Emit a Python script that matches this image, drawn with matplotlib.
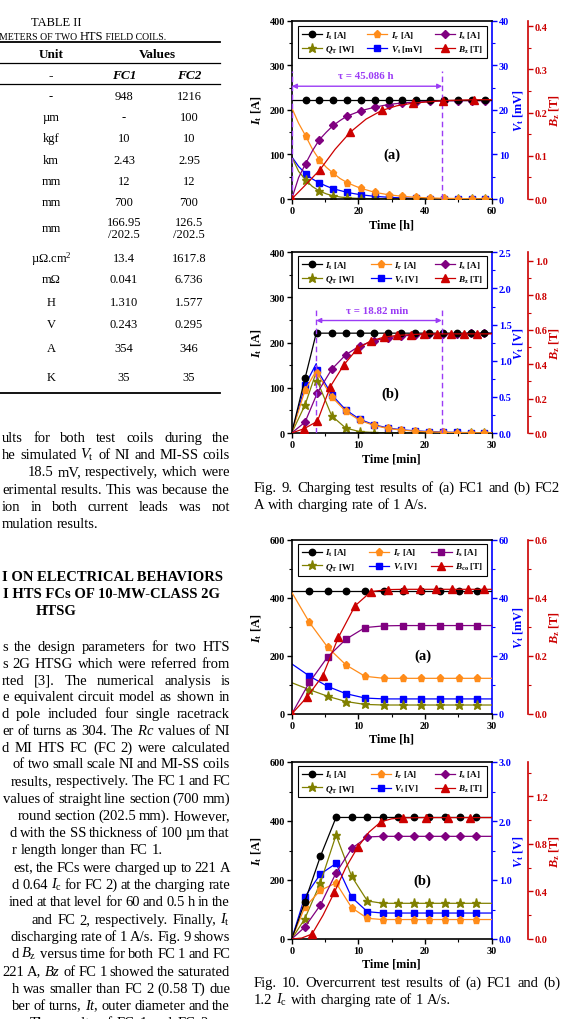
import matplotlib
matplotlib.use('Agg')
import matplotlib.pyplot as plt
from matplotlib.ticker import MultipleLocator, AutoMinorLocator, FormatStrFormatter
from matplotlib.lines import Line2D

W, H = 562, 1020
plt.rcParams['font.family'] = ['Liberation Serif', 'DejaVu Serif']
plt.rcParams['font.weight'] = 'bold'
plt.rcParams['mathtext.fontset'] = 'custom'
plt.rcParams['mathtext.rm'] = 'Liberation Serif:weight=normal'
plt.rcParams['mathtext.it'] = 'Liberation Serif:style=italic:weight=normal'
plt.rcParams['mathtext.bf'] = 'Liberation Serif:weight=bold'
plt.rcParams['mathtext.bfit'] = 'Liberation Serif:style=italic:weight=bold'

C_IT = 'black'
C_IR = '#FF8C1A'
C_IS = '#800080'
C_QT = '#808000'
C_VT = '#0000FF'
C_BZ = '#CC0000'
C_TAU = '#9B3CF5'

# ---- Fig. 9 (a) FC1 charging, time in h
t_fc1 = [0, 2.07, 4.15, 6.2, 8.3, 10.4, 12.45, 14.5, 16.6, 18.7, 20.75, 24.9, 29.05, 33.2, 37.35, 41.5, 45.65, 49.8, 53.95, 58.1, 60]
mk_fc1 = [2, 4, 6, 8, 10, 11, 12, 13, 14, 15, 16, 17, 18, 19]
It_fc1 = [221, 221, 221, 221, 221, 221, 221, 221, 221, 221, 221, 221, 221, 221, 221, 221, 221, 221, 221, 221, 221]
Ir_fc1 = [205, 170, 142, 112, 88, 71, 58, 46, 37, 30, 24, 15, 9.5, 6, 3.8, 2.4, 1.5, 1.0, 0.6, 0.4, 0.3]
Is_fc1 = [0, 48, 79, 108, 133, 150, 165, 176, 186, 192, 198, 206, 212, 215.5, 217.5, 219, 220, 220.5, 220.7, 220.8, 220.8]
Qt_fc1 = [95, 62, 43, 28, 18, 11.5, 7, 4.5, 2.8, 1.8, 1.1, 0.45, 0.2, 0.1, 0, 0, 0, 0, 0, 0, 0]
Vt_fc1 = [9.5, 7.3, 5.7, 4.5, 3.6, 2.9, 2.3, 1.9, 1.5, 1.2, 0.95, 0.6, 0.38, 0.24, 0.15, 0.1, 0.06, 0.04, 0.03, 0.02, 0.02]
tb_fc1 = [0, 4.2, 8.5, 13.0, 17.6, 22.3, 27.0, 31.6, 36.3, 45.5, 54.7, 60]
Bz_fc1 = [0, 0.033, 0.068, 0.115, 0.155, 0.185, 0.205, 0.216, 0.222, 0.228, 0.230, 0.230]
mkb_fc1 = [0, 2, 4, 6, 8, 9, 10]
tau_fc1 = 45.086
t0_fc1 = 0.06

# ---- Fig. 9 (b) FC2 charging, time in min
t_fc2 = [0, 2.0, 3.68, 3.85, 6.0, 8.1, 10.2, 12.3, 14.4, 16.45, 18.55, 20.6, 22.7, 24.75, 26.85, 28.9, 30]
mk_fc2 = [1, 3, 4, 5, 6, 7, 8, 9, 10, 11, 12, 13, 14, 15]
It_fc2 = [0, 121, 221, 221, 221, 221, 221, 221, 221, 221, 221, 221, 221, 221, 221, 221, 221]
Ir_fc2 = [0, 95, 138, 132, 80, 48, 28, 17, 10, 6.5, 4, 2.5, 1.5, 1, 0.5, 0.3, 0.2]
Is_fc2 = [0, 24, 83, 89, 141, 173, 193, 204, 211, 214.5, 217, 218.5, 219.5, 220, 220.5, 220.7, 220.8]
Qt_fc2 = [0, 62, 135, 115, 38, 11, 3, 1, 0.3, 0, 0, 0, 0, 0, 0, 0, 0]
Vt_fc2 = [0, 0.66, 0.96, 0.87, 0.53, 0.32, 0.19, 0.115, 0.07, 0.045, 0.03, 0.02, 0.012, 0.008, 0.005, 0.003, 0.002]
tb_fc2 = [0, 1.85, 3.85, 5.8, 7.8, 9.85, 11.85, 13.85, 15.85, 17.85, 19.85, 21.85, 23.85, 25.85, 27.85, 30]
Bz_fc2 = [0, 0.025, 0.068, 0.27, 0.395, 0.49, 0.535, 0.557, 0.567, 0.572, 0.575, 0.576, 0.576, 0.576, 0.576, 0.576]
mkb_fc2 = [1, 2, 3, 4, 5, 6, 7, 8, 9, 10, 11, 12, 13, 14]
tau_fc2 = 18.82
t0_fc2 = 3.68

# ---- Fig. 10 (a) FC1 overcurrent, time in h
t_oc1 = [0, 2.65, 5.4, 8.15, 11.0, 13.85, 16.65, 19.4, 22.25, 25.1, 27.85, 30]
mk_oc1 = [1, 2, 3, 4, 5, 6, 7, 8, 9, 10]
It_oc1 = [425, 425, 425, 425, 425, 425, 425, 425, 425, 425, 425, 425]
Ir_oc1 = [420, 316, 230, 169, 130, 123, 123, 123, 123, 123, 123, 123]
Is_oc1 = [0, 109, 197, 258, 298, 304, 305, 305, 305, 305, 305, 305]
Qt_oc1 = [108, 84, 61, 43, 33, 31, 31, 31, 31, 31, 31, 31]
Vt_oc1 = [17.3, 13.1, 9.5, 7.0, 5.5, 5.2, 5.2, 5.2, 5.2, 5.2, 5.2, 5.2]
tb_oc1 = [0, 2.25, 4.65, 7.0, 9.5, 11.9, 14.4, 16.8, 19.2, 21.6, 24.0, 26.4, 28.8, 30]
Bz_oc1 = [0, 0.057, 0.132, 0.264, 0.373, 0.422, 0.429, 0.43, 0.43, 0.43, 0.43, 0.43, 0.43, 0.43]
mkb_oc1 = [0, 1, 2, 3, 4, 5, 6, 7, 8, 9, 10, 11, 12]

# ---- Fig. 10 (b) FC2 overcurrent, time in min
t_oc2 = [0, 1.95, 4.3, 6.65, 9.0, 11.35, 13.65, 16.0, 18.3, 20.65, 23.0, 25.3, 27.65, 30]
mk_oc2 = [1, 2, 3, 4, 5, 6, 7, 8, 9, 10, 11, 12]
It_oc2 = [0, 125, 280, 412, 412, 412, 412, 412, 412, 412, 412, 412, 412, 412]
Ir_oc2 = [0, 107, 165, 190, 106, 70, 66, 66, 66, 66, 66, 66, 66, 66]
Is_oc2 = [0, 40, 115, 224, 307, 346, 348, 348, 348, 348, 348, 348, 348, 348]
Qt_oc2 = [0, 68, 190, 352, 212, 129, 121, 121, 121, 121, 121, 121, 121, 121]
Vt_oc2 = [0, 0.71, 1.10, 1.28, 0.706, 0.463, 0.44, 0.44, 0.44, 0.44, 0.44, 0.44, 0.44, 0.44]
tb_oc2 = [0, 1.5, 3.05, 4.7, 6.4, 8.1, 9.9, 11.6, 13.4, 15.0, 16.75, 20.1, 23.45, 26.8, 30]
Bz_oc2 = [0, 0.008, 0.042, 0.2, 0.393, 0.6, 0.772, 0.9, 0.987, 1.012, 1.02, 1.022, 1.022, 1.022, 1.022]
mkb_oc2 = [2, 4, 6, 8, 10, 11, 12, 13]

# ---- table
units = ['-', 'µm', 'kgf', 'km', 'mm', 'mm', 'mm', 'µΩ.cm$^2$', 'mΩ', 'H', 'V', 'A', 'K']
fc1_vals = ['948', '-', '10', '2.43', '12', '700', '166.95\n/202.5', '13.4', '0.041', '1.310', '0.243', '354', '35']
fc2_vals = ['1216', '100', '10', '2.95', '12', '700', '126.5\n/202.5', '1617.8', '6.736', '1.577', '0.295', '346', '35']
row_y = [97, 118, 139.3, 160.7, 182, 203, 229, 259.3, 280, 302.7, 325, 349, 378]

fig = plt.figure(figsize=(W / 100, H / 100), dpi=100)
fig.patch.set_facecolor('white')
renderer = fig.canvas.get_renderer()


def fx(x):
    return x / W


def fy(y):
    return 1 - y / H


def words_line(s, x0, y, x1=None, size=10.5, weight='normal', style='normal'):
    words = s.split(' ')
    ts = [fig.text(0, 0, w, fontsize=size, fontweight=weight, fontstyle=style,
                   va='baseline', ha='left') for w in words]
    ws = [t.get_window_extent(renderer).width for t in ts]
    em = size * 100 / 72
    if x1 is None or len(words) < 2:
        gap = 0.25 * em
    else:
        gap = (x1 - x0 - sum(ws)) / (len(words) - 1)
        if gap < 0.2 * em:
            # line too long: keep the right edge, let the start run off the cropped page
            gap = 0.2 * em
            x0 = x1 - sum(ws) - gap * (len(words) - 1)
    x = x0
    for t, w in zip(ts, ws):
        t.set_position((fx(x), fy(y)))
        x += w + gap


# ---- left column: table
fig.text(fx(56), fy(26), 'TABLE II', fontsize=9, fontweight='normal', ha='center', va='baseline')
x = -1
for piece, sz in [('METERS OF TWO ', 7), ('HTS', 9), (' FIELD COILS.', 7)]:
    tt = fig.text(fx(x), fy(40.5), piece, fontsize=sz, fontweight='normal', ha='left', va='baseline')
    x += tt.get_window_extent(renderer).width
for yy, lw in [(43.3, 1.3), (64.3, 0.9), (85.3, 0.9), (394, 1.3)]:
    fig.add_artist(Line2D([0, fx(220)], [fy(yy), fy(yy)], color='black', lw=lw))
fig.text(fx(51), fy(58), 'Unit', fontsize=9.5, fontweight='bold', ha='center', va='baseline')
fig.text(fx(157), fy(58), 'Values', fontsize=9.5, fontweight='bold', ha='center', va='baseline')
fig.text(fx(51), fy(79), '-', fontsize=9.5, fontweight='bold', ha='center', va='baseline')
fig.text(fx(124), fy(79), 'FC1', fontsize=9.5, fontweight='bold', fontstyle='italic', ha='center', va='baseline')
fig.text(fx(189), fy(79), 'FC2', fontsize=9.5, fontweight='bold', fontstyle='italic', ha='center', va='baseline')
for u, a, b, yy in zip(units, fc1_vals, fc2_vals, row_y):
    fig.text(fx(51), fy(yy), u, fontsize=9, fontweight='normal', ha='center', va='center')
    fig.text(fx(124), fy(yy), a, fontsize=9, fontweight='normal', ha='center', va='center', linespacing=1.05)
    fig.text(fx(189), fy(yy), b, fontsize=9, fontweight='normal', ha='center', va='center', linespacing=1.05)

# ---- left column: body text
block1 = [("ults for both test coils during the", 2, True),
          (r"he simulated $V_\mathrm{t}$ of NI and MI-SS coils", 2, True),
          ("18.5 mV, respectively, which were", 28, True),
          ("erimental results. This was because the", 2, True),
          ("ion in both current leads was not", 2, True),
          ("mulation results.", 2, False)]
for i, (s, x0, j) in enumerate(block1):
    words_line(s, x0, 442 + 17.2 * i, 230 if j else None)

fig.text(fx(223), fy(581), 'I ON ELECTRICAL BEHAVIORS', fontsize=10.5, fontweight='bold', ha='right', va='baseline')
fig.text(fx(220), fy(598), 'I HTS FCs OF 10-MW-CLASS 2G', fontsize=10.5, fontweight='bold', ha='right', va='baseline')
fig.text(fx(56), fy(615), 'HTSG', fontsize=10.5, fontweight='bold', ha='center', va='baseline')

block2 = [("s the design parameters for two HTS", 2, True),
          ("s 2G HTSG which were referred from", 2, True),
          ("rted [3]. The numerical analysis is", 2, True),
          ("e equivalent circuit model as shown in", 2, True),
          ("d pole included four single racetrack", 2, True),
          (r"er of turns as 304. The $Rc$ values of NI", 2, True),
          ("d MI HTS FC (FC 2) were calculated", 2, True)]
for i, (s, x0, j) in enumerate(block2):
    words_line(s, x0, 651 + 16.8 * i, 230 if j else None)

block3 = [("of two small scale NI and MI-SS coils", 13, True),
          ("results, respectively. The FC 1 and FC", 12, True),
          ("values of straight line section (700 mm)", 12, True),
          ("round section (202.5 mm). However,", 30, True),
          ("d with the SS thickness of 100 µm that", 12, True),
          ("r length longer than FC 1.", 12, False),
          ("est, the FCs were charged up to 221 A", 15, True),
          (r"d 0.64 $I_\mathrm{c}$ for FC 2) at the charging rate", 12, True),
          ("ined at that level for 60 and 0.5 h in the", 12, True),
          (r"and FC 2, respectively. Finally, $I_\mathrm{t}$", 32, True),
          ("discharging rate of 1 A/s. Fig. 9 shows", 20, True),
          (r"d $B_\mathrm{z}$ versus time for both FC 1 and FC", 12, True),
          (r"221 A, $Bz$ of FC 1 showed the saturated", 10, True),
          ("h was smaller than FC 2 (0.58 T) due", 12, True),
          (r"ber of turns, $It$, outer diameter and the", 12, True),
          ("The results of FC 1 and FC 2 are", 30, True)]
for i, (s, x0, j) in enumerate(block3):
    words_line(s, x0, 768 + 17.3 * i, 230 if j else None)

# ---- captions
words_line("Fig. 9. Charging test results of (a) FC1 and (b) FC2", 254, 492, 560, size=10.5)
words_line("A with charging rate of 1 A/s.", 254, 509.5, None, size=10.5)
words_line("Fig. 10. Overcurrent test results of (a) FC1 and (b)", 254, 987, 560, size=10.5)
words_line(r"1.2 $I_\mathrm{c}$ with charging rate of 1 A/s.", 254, 1004, None, size=10.5)


def panel(top, bottom, t, it, ir, isx, qt, vt, mk, tb, bz, mkb,
          xmax, xstep, ymax, ystep, vmax, vstep, vfmt, bmax, bstep,
          xlab, vlab, vleg, bleg, s_marker, tag, tag_xy, leg_top):
    L, R = 291.7, 491.7
    ax = fig.add_axes([fx(L), fy(bottom), (R - L) / W, (bottom - top) / H])
    ax.patch.set_visible(False)
    axv = ax.twinx()
    axb = ax.twinx()
    axv.set_zorder(ax.get_zorder() - 1)

    ax.plot(t, qt, color=C_QT, marker='*', ms=6.5, lw=0.9, markevery=mk, zorder=2)
    ax.plot(t, ir, color=C_IR, marker='p', ms=5.2, lw=0.9, markevery=mk, zorder=3)
    ax.plot(t, isx, color=C_IS, marker=s_marker, ms=4.2, lw=0.9, markevery=mk, zorder=4)
    ax.plot(t, it, color=C_IT, marker='o', ms=4.6, lw=0.9, markevery=mk, zorder=5)
    axv.plot(t, vt, color=C_VT, marker='s', ms=4.2, lw=0.9, markevery=mk)
    axb.plot(tb, bz, color=C_BZ, marker='^', ms=5.2, lw=0.9, markevery=mkb)

    ax.set_xlim(0, xmax)
    ax.set_ylim(0, ymax)
    axv.set_ylim(0, vmax)
    axb.set_ylim(0, bmax)
    ax.xaxis.set_major_locator(MultipleLocator(xstep))
    ax.yaxis.set_major_locator(MultipleLocator(ystep))
    axv.yaxis.set_major_locator(MultipleLocator(vstep))
    axb.yaxis.set_major_locator(MultipleLocator(bstep))
    for a in (ax.xaxis, ax.yaxis, axv.yaxis, axb.yaxis):
        a.set_minor_locator(AutoMinorLocator(2))
    ax.xaxis.set_major_formatter(FormatStrFormatter('%d'))
    ax.yaxis.set_major_formatter(FormatStrFormatter('%d'))
    axv.yaxis.set_major_formatter(FormatStrFormatter(vfmt))
    axb.yaxis.set_major_formatter(FormatStrFormatter('%.1f'))

    ax.spines['right'].set_visible(False)
    for a in (axv, axb):
        for s in ('left', 'top', 'bottom'):
            a.spines[s].set_visible(False)
    for s in ('left', 'top', 'bottom'):
        ax.spines[s].set_linewidth(1.2)
    axv.spines['right'].set_linewidth(1.2)
    axv.spines['right'].set_color(C_VT)
    axb.spines['right'].set_position(('axes', 1.18))
    axb.spines['right'].set_linewidth(1.2)
    axb.spines['right'].set_color(C_BZ)

    for a, c in ((ax, 'black'), (axv, C_VT), (axb, C_BZ)):
        a.tick_params(which='major', direction='out', length=3.5, width=1, labelsize=7.3, pad=1.5)
        a.tick_params(which='minor', direction='out', length=2, width=0.8)
        if c != 'black':
            a.tick_params(axis='y', which='both', colors=c)

    ax.set_xlabel(xlab, fontsize=8.8, fontweight='bold')
    ax.xaxis.set_label_coords(0.5, -(19 / (bottom - top)))
    ax.set_ylabel(r'$\mathbfit{I}_\mathbf{t}$ [A]', fontsize=8.8, fontweight='bold')
    ax.yaxis.set_label_coords(-0.14, 0.5)
    axv.set_ylabel(vlab, fontsize=8.8, fontweight='bold', color=C_VT)
    axv.yaxis.set_label_coords(1.097, 0.5)
    axb.set_ylabel(r'$\mathbfit{B}_\mathbf{z}$ [T]', fontsize=8.8, fontweight='bold', color=C_BZ)
    axb.yaxis.set_label_coords(1.278, 0.5)

    ax.text(tag_xy[0], tag_xy[1], tag, fontsize=10.5, fontweight='bold', ha='center', va='center')

    hs = [Line2D([], [], color=C_IT, marker='o', ms=4.6, lw=0.9),
          Line2D([], [], color=C_QT, marker='*', ms=6.5, lw=0.9),
          Line2D([], [], color=C_IR, marker='p', ms=5.2, lw=0.9),
          Line2D([], [], color=C_VT, marker='s', ms=4.2, lw=0.9),
          Line2D([], [], color=C_IS, marker=s_marker, ms=4.2, lw=0.9),
          Line2D([], [], color=C_BZ, marker='^', ms=5.2, lw=0.9)]
    labs = [r'$\mathbfit{I}_\mathbf{t}$ [A]', r'$\mathbfit{Q}_\mathbf{T}$ [W]',
            r'$\mathbfit{I}_\mathbf{r}$ [A]', vleg,
            r'$\mathbfit{I}_\mathbf{s}$ [A]', bleg]
    lg = axb.legend(hs, labs, ncol=3, loc='upper left', mode='expand',
                    bbox_to_anchor=(0.033, 0.0, 0.942, leg_top), borderaxespad=0,
                    fontsize=6.6, frameon=True, fancybox=False, edgecolor='black',
                    framealpha=1, handlelength=2.2, handletextpad=0.4, borderpad=0.35,
                    labelspacing=0.3, columnspacing=0.6)
    lg.get_frame().set_linewidth(0.8)
    for txt in lg.get_texts():
        txt.set_fontweight('bold')
    return ax


ax1 = panel(21.7, 200, t_fc1, It_fc1, Ir_fc1, Is_fc1, Qt_fc1, Vt_fc1, mk_fc1, tb_fc1, Bz_fc1, mkb_fc1,
            60, 20, 400, 100, 40, 10, '%d', 0.413, 0.1,
            'Time [h]', r'$\mathbfit{V}_\mathbf{t}$ [mV]', r'$\mathbfit{V}_\mathbf{t}$ [mV]',
            r'$\mathbfit{B}_\mathbf{z}$ [T]', 'D', '(a)', (30, 100), 0.969)
ax1.plot([t0_fc1, t0_fc1], [0, 288], color=C_TAU, lw=1, dashes=(4, 2.5), clip_on=False, zorder=6)
ax1.plot([t0_fc1 + tau_fc1, t0_fc1 + tau_fc1], [0, 288], color=C_TAU, lw=1, dashes=(4, 2.5), zorder=6)
ax1.annotate('', xy=(t0_fc1 + tau_fc1, 253), xytext=(t0_fc1, 253),
             arrowprops=dict(arrowstyle='<|-|>', color=C_TAU, lw=1, mutation_scale=7, shrinkA=0, shrinkB=0))
ax1.text(22.2, 278, 'τ = 45.086 h', color=C_TAU, fontsize=7.8, fontweight='bold', ha='center', va='center')

ax2 = panel(253.3, 434, t_fc2, It_fc2, Ir_fc2, Is_fc2, Qt_fc2, Vt_fc2, mk_fc2, tb_fc2, Bz_fc2, mkb_fc2,
            30, 10, 400, 100, 2.5, 0.5, '%.1f', 1.05, 0.2,
            'Time [min]', r'$\mathbfit{V}_\mathbf{t}$ [V]', r'$\mathbfit{V}_\mathbf{t}$ [V]',
            r'$\mathbfit{B}_\mathbf{z}$ [T]', 'D', '(b)', (14.75, 88), 0.978)
ax2.plot([t0_fc2, t0_fc2], [0, 278], color=C_TAU, lw=1, dashes=(4, 2.5), zorder=6)
ax2.plot([t0_fc2 + tau_fc2, t0_fc2 + tau_fc2], [0, 278], color=C_TAU, lw=1, dashes=(4, 2.5), zorder=6)
ax2.annotate('', xy=(t0_fc2 + tau_fc2, 249), xytext=(t0_fc2, 249),
             arrowprops=dict(arrowstyle='<|-|>', color=C_TAU, lw=1, mutation_scale=7, shrinkA=0, shrinkB=0))
ax2.text(12.85, 272, 'τ = 18.82 min', color=C_TAU, fontsize=7.8, fontweight='bold', ha='center', va='center')

panel(541, 715, t_oc1, It_oc1, Ir_oc1, Is_oc1, Qt_oc1, Vt_oc1, mk_oc1, tb_oc1, Bz_oc1, mkb_oc1,
      30, 10, 600, 200, 60, 20, '%d', 0.6, 0.2,
      'Time [h]', r'$\mathbfit{V}_\mathbf{t}$ [mV]', r'$\mathbfit{V}_\mathbf{t}$ [V]',
      r'$\mathbfit{B}_\mathbf{co}$ [T]', 's', '(a)', (19.75, 201), 0.977)

panel(763, 940, t_oc2, It_oc2, Ir_oc2, Is_oc2, Qt_oc2, Vt_oc2, mk_oc2, tb_oc2, Bz_oc2, mkb_oc2,
      30, 10, 600, 200, 3.0, 1.0, '%.1f', 1.49, 0.4,
      'Time [min]', r'$\mathbfit{V}_\mathbf{t}$ [V]', r'$\mathbfit{V}_\mathbf{t}$ [V]',
      r'$\mathbfit{B}_\mathbf{z}$ [T]', 'D', '(b)', (19.65, 198), 0.979)

fig.savefig('out.png', dpi=100, facecolor='white')
